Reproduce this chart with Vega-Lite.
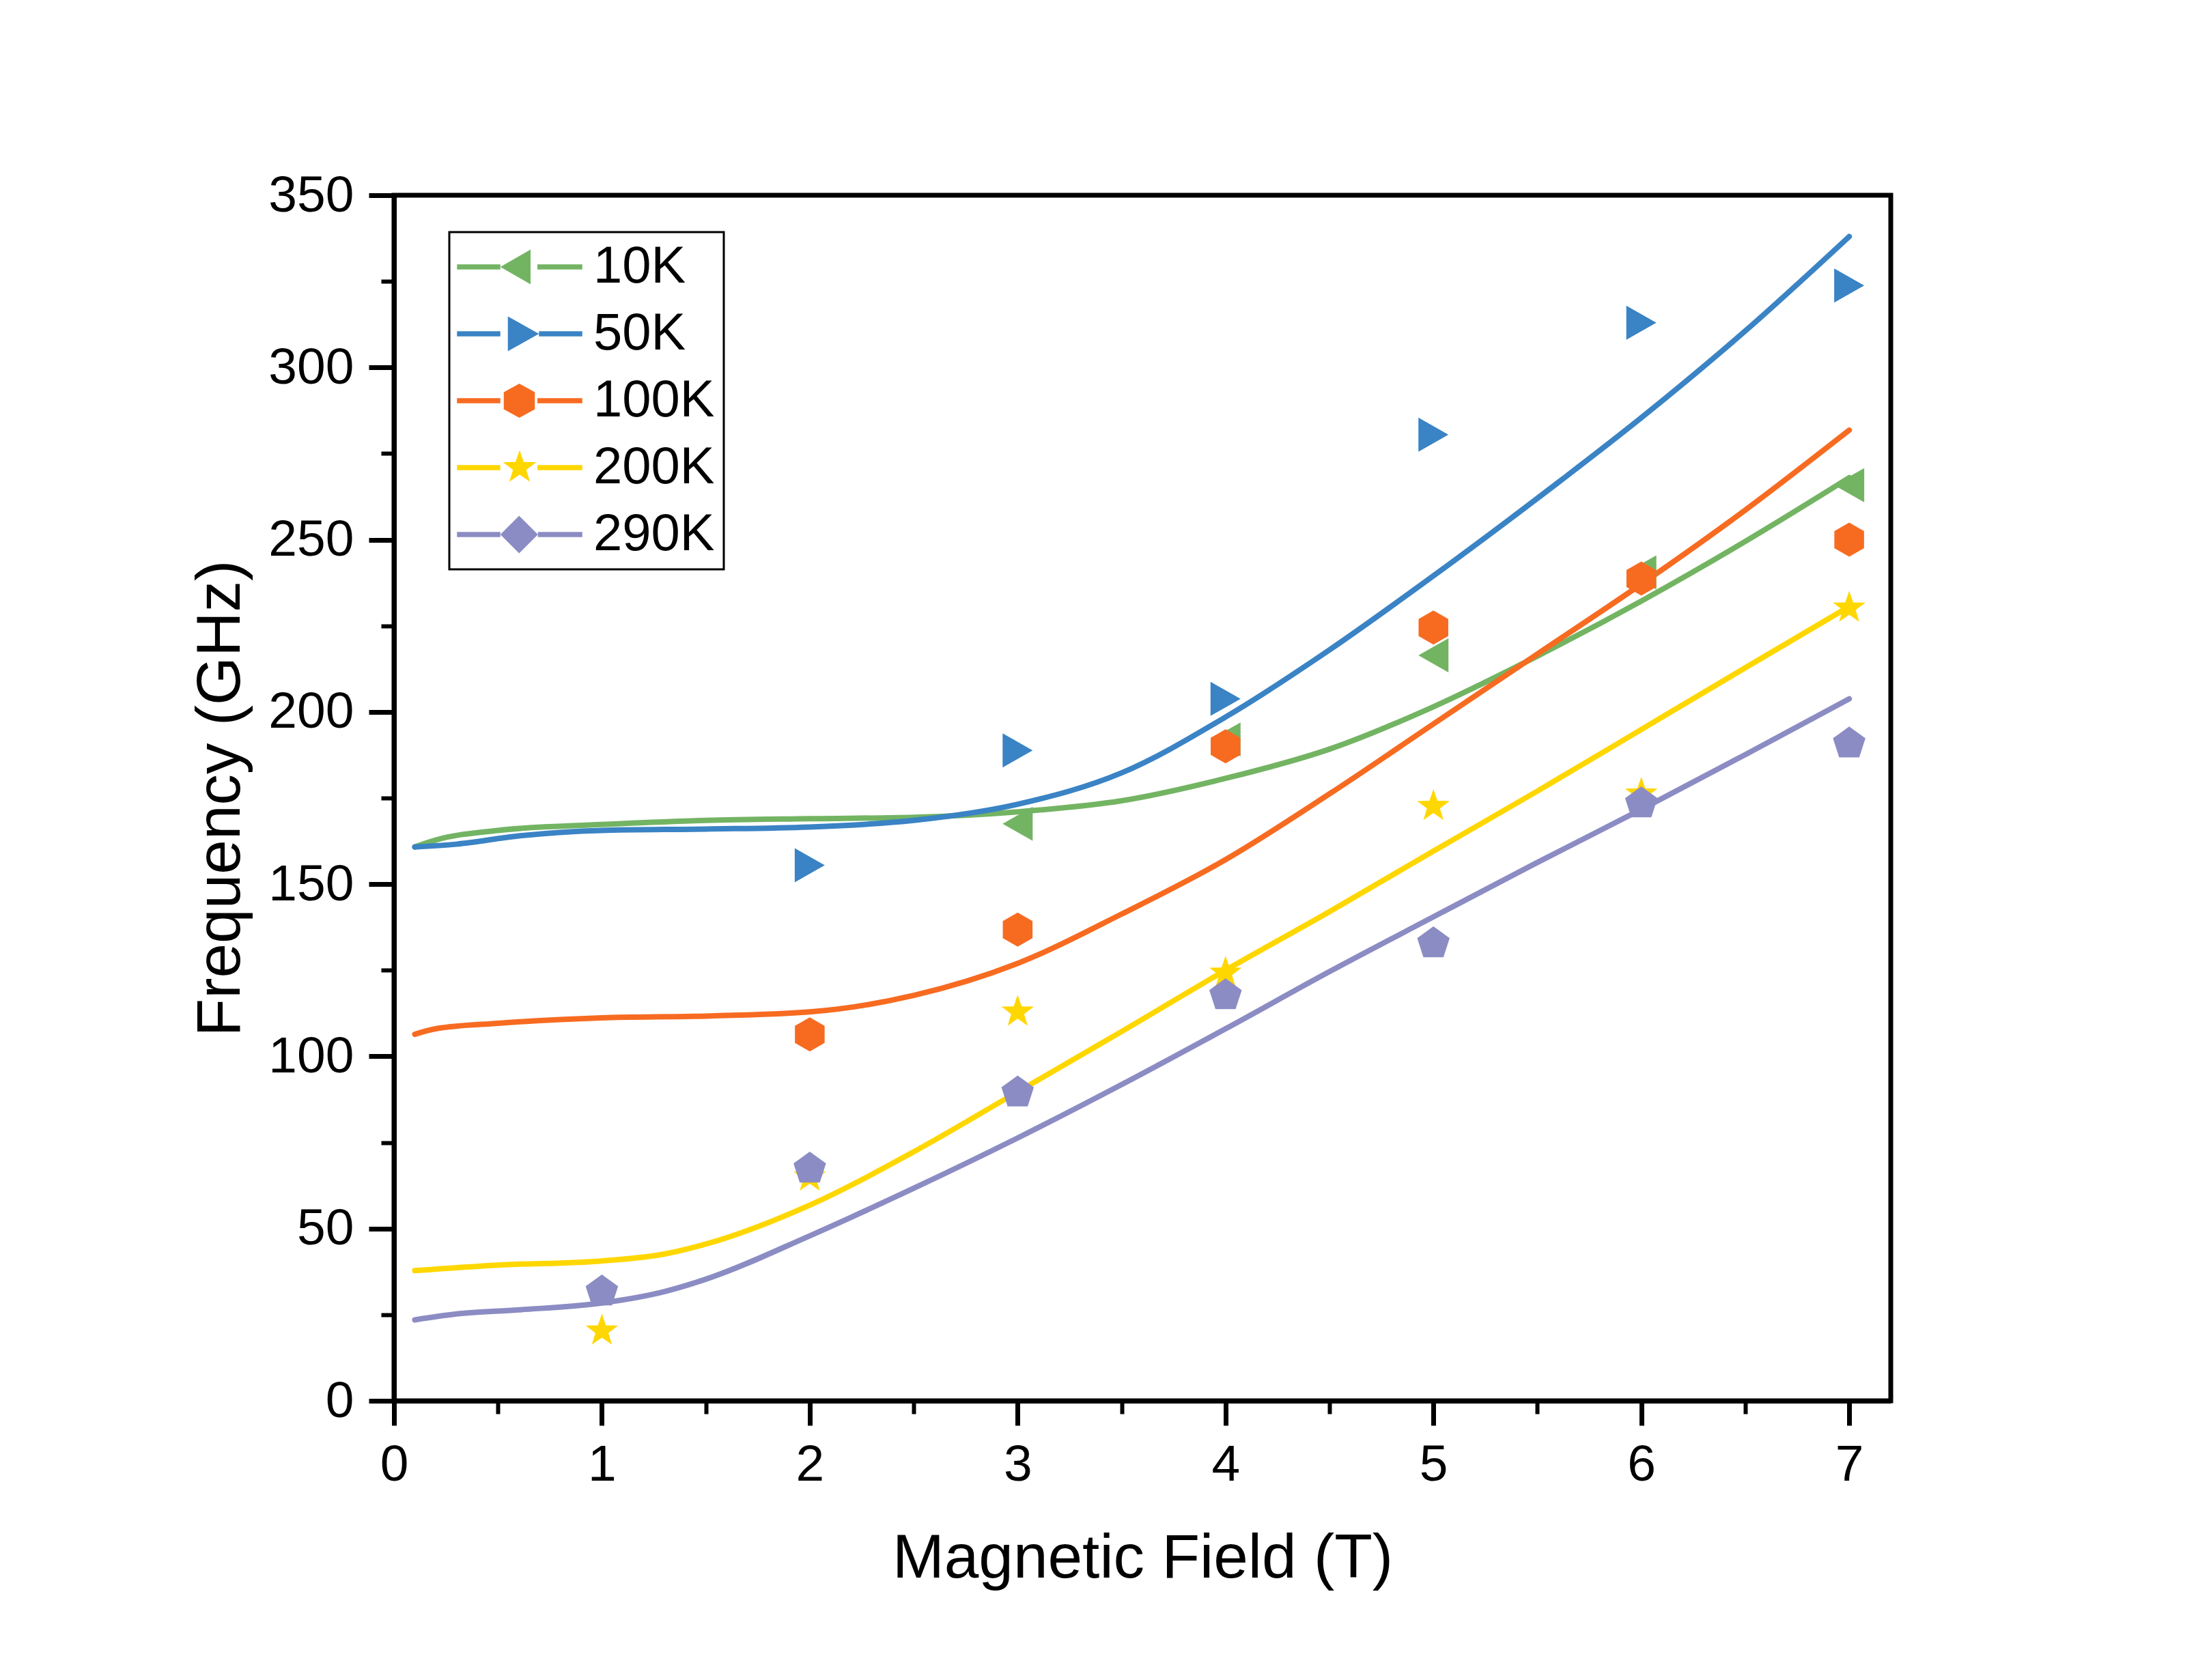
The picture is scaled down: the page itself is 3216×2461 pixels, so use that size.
{
  "$schema": "https://vega.github.io/schema/vega-lite/v6.json",
  "width": 2192,
  "height": 1766,
  "autosize": {"type": "none"},
  "padding": {"left": 577, "top": 286, "right": 447, "bottom": 409},
  "background": "white",
  "config": {
    "view": {"stroke": "black", "strokeWidth": 7},
    "font": "Liberation Sans",
    "legend": {"strokeWidth": 3},
    "axis": {"grid": false, "domainColor": "black", "tickColor": "black", "labelColor": "black", "titleColor": "black", "labelFont": "Liberation Sans", "titleFont": "Liberation Sans", "labelFlush": false, "labelOverlap": false}
  },
  "datasets": {
    "fits": [
      {"series": "10K", "B": 0.1, "f": 160.8}, {"series": "10K", "B": 0.2, "f": 162.8}, {"series": "10K", "B": 0.5, "f": 165.6}, {"series": "10K", "B": 1.0, "f": 167.3}, {"series": "10K", "B": 1.5, "f": 168.5}, {"series": "10K", "B": 2.0, "f": 169.0}, {"series": "10K", "B": 2.5, "f": 169.4}, {"series": "10K", "B": 3.0, "f": 171.0}, {"series": "10K", "B": 3.5, "f": 174.2}, {"series": "10K", "B": 4.0, "f": 180.7}, {"series": "10K", "B": 4.5, "f": 189.2}, {"series": "10K", "B": 5.0, "f": 201.5}, {"series": "10K", "B": 5.5, "f": 216.2}, {"series": "10K", "B": 6.0, "f": 232.2}, {"series": "10K", "B": 6.5, "f": 249.5}, {"series": "10K", "B": 7.0, "f": 268.0},
      {"series": "50K", "B": 0.1, "f": 160.8}, {"series": "50K", "B": 0.3, "f": 161.6}, {"series": "50K", "B": 0.6, "f": 164.0}, {"series": "50K", "B": 1.0, "f": 165.6}, {"series": "50K", "B": 1.5, "f": 166.0}, {"series": "50K", "B": 2.0, "f": 166.6}, {"series": "50K", "B": 2.5, "f": 168.5}, {"series": "50K", "B": 3.0, "f": 173.2}, {"series": "50K", "B": 3.5, "f": 182.3}, {"series": "50K", "B": 4.0, "f": 198.5}, {"series": "50K", "B": 4.5, "f": 218.0}, {"series": "50K", "B": 5.0, "f": 239.5}, {"series": "50K", "B": 5.5, "f": 262.0}, {"series": "50K", "B": 6.0, "f": 285.4}, {"series": "50K", "B": 6.5, "f": 310.6}, {"series": "50K", "B": 7.0, "f": 338.0},
      {"series": "100K", "B": 0.1, "f": 106.4}, {"series": "100K", "B": 0.2, "f": 108.0}, {"series": "100K", "B": 0.5, "f": 109.6}, {"series": "100K", "B": 1.0, "f": 111.2}, {"series": "100K", "B": 1.5, "f": 111.7}, {"series": "100K", "B": 2.0, "f": 112.9}, {"series": "100K", "B": 2.5, "f": 117.7}, {"series": "100K", "B": 3.0, "f": 127.0}, {"series": "100K", "B": 3.5, "f": 141.3}, {"series": "100K", "B": 4.0, "f": 157.1}, {"series": "100K", "B": 4.5, "f": 176.2}, {"series": "100K", "B": 5.0, "f": 196.5}, {"series": "100K", "B": 5.5, "f": 216.8}, {"series": "100K", "B": 6.0, "f": 237.1}, {"series": "100K", "B": 6.5, "f": 258.6}, {"series": "100K", "B": 7.0, "f": 281.8},
      {"series": "200K", "B": 0.1, "f": 37.8}, {"series": "200K", "B": 0.5, "f": 39.4}, {"series": "200K", "B": 1.0, "f": 40.6}, {"series": "200K", "B": 1.3, "f": 42.6}, {"series": "200K", "B": 1.5, "f": 45.5}, {"series": "200K", "B": 2.0, "f": 56.8}, {"series": "200K", "B": 2.5, "f": 72.3}, {"series": "200K", "B": 3.0, "f": 89.7}, {"series": "200K", "B": 3.5, "f": 107.2}, {"series": "200K", "B": 4.0, "f": 125.0}, {"series": "200K", "B": 4.5, "f": 142.0}, {"series": "200K", "B": 5.0, "f": 159.6}, {"series": "200K", "B": 5.5, "f": 177.0}, {"series": "200K", "B": 6.0, "f": 194.9}, {"series": "200K", "B": 6.5, "f": 212.8}, {"series": "200K", "B": 7.0, "f": 230.6},
      {"series": "290K", "B": 0.1, "f": 23.5}, {"series": "290K", "B": 0.3, "f": 25.2}, {"series": "290K", "B": 0.6, "f": 26.4}, {"series": "290K", "B": 1.0, "f": 28.4}, {"series": "290K", "B": 1.3, "f": 31.7}, {"series": "290K", "B": 1.5, "f": 35.3}, {"series": "290K", "B": 2.0, "f": 47.9}, {"series": "290K", "B": 2.5, "f": 61.7}, {"series": "290K", "B": 3.0, "f": 76.3}, {"series": "290K", "B": 3.5, "f": 91.8}, {"series": "290K", "B": 4.0, "f": 108.0}, {"series": "290K", "B": 4.5, "f": 124.6}, {"series": "290K", "B": 5.0, "f": 140.5}, {"series": "290K", "B": 5.5, "f": 156.3}, {"series": "290K", "B": 6.0, "f": 171.7}, {"series": "290K", "B": 6.5, "f": 187.6}, {"series": "290K", "B": 7.0, "f": 203.8}
    ],
    "pts": [
      {"series": "10K", "B": 3, "f": 167.5}, {"series": "10K", "B": 4, "f": 192.0}, {"series": "10K", "B": 5, "f": 216.4}, {"series": "10K", "B": 6, "f": 240.5}, {"series": "10K", "B": 7, "f": 265.8},
      {"series": "50K", "B": 2, "f": 155.5}, {"series": "50K", "B": 3, "f": 188.8}, {"series": "50K", "B": 4, "f": 203.8}, {"series": "50K", "B": 5, "f": 280.5}, {"series": "50K", "B": 6, "f": 313.0}, {"series": "50K", "B": 7, "f": 323.8},
      {"series": "100K", "B": 2, "f": 106.4}, {"series": "100K", "B": 3, "f": 136.8}, {"series": "100K", "B": 4, "f": 190.0}, {"series": "100K", "B": 5, "f": 224.5}, {"series": "100K", "B": 6, "f": 238.7}, {"series": "100K", "B": 7, "f": 250.0},
      {"series": "200K", "B": 1, "f": 20.3}, {"series": "200K", "B": 2, "f": 65.0}, {"series": "200K", "B": 3, "f": 112.9}, {"series": "200K", "B": 4, "f": 124.2}, {"series": "200K", "B": 5, "f": 172.6}, {"series": "200K", "B": 6, "f": 176.2}, {"series": "200K", "B": 7, "f": 230.2},
      {"series": "290K", "B": 1, "f": 31.7}, {"series": "290K", "B": 2, "f": 67.4}, {"series": "290K", "B": 3, "f": 89.5}, {"series": "290K", "B": 4, "f": 117.7}, {"series": "290K", "B": 5, "f": 132.8}, {"series": "290K", "B": 6, "f": 173.4}, {"series": "290K", "B": 7, "f": 190.8}
    ]
  },
  "layer": [
    {
      "data": {"name": "fits"},
      "mark": {"type": "line", "strokeWidth": 8, "interpolate": "monotone", "strokeCap": "round"},
      "encoding": {
        "x": {"field": "B", "type": "quantitative", "scale": {"domain": [0, 7.2], "nice": false, "zero": false},
          "axis": {"orient": "bottom", "values": [0, 1, 2, 3, 4, 5, 6, 7], "format": "d", "tickSize": 36, "tickWidth": 7, "domainWidth": 7, "labelFontSize": 75, "labelPadding": 21, "title": "Magnetic Field (T)", "titleFontSize": 91, "titleFontWeight": "normal", "titlePadding": 55}},
        "y": {"field": "f", "type": "quantitative", "scale": {"domain": [0, 350], "nice": false},
          "axis": {"orient": "left", "values": [0, 50, 100, 150, 200, 250, 300, 350], "format": "d", "tickSize": 37, "tickWidth": 7, "domainWidth": 7, "labelFontSize": 75, "labelPadding": 22, "title": "Frequency (GHz)", "titleFontSize": 91, "titleFontWeight": "normal", "titlePadding": 23}},
        "color": {"field": "series", "type": "nominal", "scale": {"domain": ["10K", "50K", "100K", "200K", "290K"], "range": ["#73B463", "#3A83C5", "#F76B21", "#FFD700", "#8C8CC4"]},
          "legend": {"title": null, "orient": "none", "legendX": 81, "legendY": 54, "direction": "vertical", "strokeColor": "black", "padding": 13, "labelFont": "Liberation Sans", "labelFontSize": 76, "labelColor": "black", "labelLimit": 600, "symbolSize": 2500, "symbolStrokeWidth": 0, "symbolOffset": 52, "labelOffset": 70, "rowPadding": 22,
            "symbolType": {"expr": "datum.value === '10K' ? 'M-3.67,-0.146L-1.13,-0.146L-1.13,0.146L-3.67,0.146Z M-1.13,0L0.64,-1.02L0.64,1.02Z M1.04,-0.146L3.67,-0.146L3.67,0.146L1.04,0.146Z' : datum.value === '50K' ? 'M-3.67,-0.146L-1.13,-0.146L-1.13,0.146L-3.67,0.146Z M-0.69,-1.02L1.13,0L-0.69,1.02Z M1.13,-0.146L3.67,-0.146L3.67,0.146L1.13,0.146Z' : datum.value === '100K' ? 'M-3.67,-0.146L-1.13,-0.146L-1.13,0.146L-3.67,0.146Z M-0.02,-1L0.89,-0.5L0.89,0.5L-0.02,1L-0.93,0.5L-0.93,-0.5Z M1.04,-0.146L3.67,-0.146L3.67,0.146L1.04,0.146Z' : datum.value === '200K' ? 'M-3.67,-0.146L-1.13,-0.146L-1.13,0.146L-3.67,0.146Z M0,-1.03L0.241,-0.332L0.98,-0.318L0.39,0.127L0.605,0.833L0,0.41L-0.605,0.833L-0.39,0.127L-0.98,-0.318L-0.241,-0.332Z M1.04,-0.146L3.67,-0.146L3.67,0.146L1.04,0.146Z' : 'M-3.67,-0.146L-1.13,-0.146L-1.13,0.146L-3.67,0.146Z M-0.03,-1.1L1.07,0L-0.03,1.1L-1.13,0Z M1.07,-0.146L3.67,-0.146L3.67,0.146L1.07,0.146Z'"}
          }}
      }
    },
    {
      "data": {"name": "pts"},
      "mark": {"type": "point", "filled": true, "size": 2500, "opacity": 1, "strokeWidth": 0},
      "encoding": {
        "x": {"field": "B", "type": "quantitative", "scale": {"domain": [0, 7.2], "nice": false, "zero": false},
          "axis": {"orient": "bottom", "values": [0.5, 1.5, 2.5, 3.5, 4.5, 5.5, 6.5], "labels": false, "domain": false, "tickSize": 19, "tickWidth": 6, "title": null}},
        "y": {"field": "f", "type": "quantitative", "scale": {"domain": [0, 350], "nice": false},
          "axis": {"orient": "left", "values": [25, 75, 125, 175, 225, 275, 325], "labels": false, "domain": false, "tickSize": 19, "tickWidth": 6, "title": null}},
        "color": {"field": "series", "type": "nominal", "scale": {"domain": ["10K", "50K", "100K", "200K", "290K"], "range": ["#73B463", "#3A83C5", "#F76B21", "#FFD700", "#8C8CC4"]},
          "legend": {"title": null, "orient": "none", "legendX": 81, "legendY": 54, "direction": "vertical", "strokeColor": "black", "padding": 13, "labelFont": "Liberation Sans", "labelFontSize": 76, "labelColor": "black", "labelLimit": 600, "symbolSize": 2500, "symbolStrokeWidth": 0, "symbolOffset": 52, "labelOffset": 70, "rowPadding": 22,
            "symbolType": {"expr": "datum.value === '10K' ? 'M-3.67,-0.146L-1.13,-0.146L-1.13,0.146L-3.67,0.146Z M-1.13,0L0.64,-1.02L0.64,1.02Z M1.04,-0.146L3.67,-0.146L3.67,0.146L1.04,0.146Z' : datum.value === '50K' ? 'M-3.67,-0.146L-1.13,-0.146L-1.13,0.146L-3.67,0.146Z M-0.69,-1.02L1.13,0L-0.69,1.02Z M1.13,-0.146L3.67,-0.146L3.67,0.146L1.13,0.146Z' : datum.value === '100K' ? 'M-3.67,-0.146L-1.13,-0.146L-1.13,0.146L-3.67,0.146Z M-0.02,-1L0.89,-0.5L0.89,0.5L-0.02,1L-0.93,0.5L-0.93,-0.5Z M1.04,-0.146L3.67,-0.146L3.67,0.146L1.04,0.146Z' : datum.value === '200K' ? 'M-3.67,-0.146L-1.13,-0.146L-1.13,0.146L-3.67,0.146Z M0,-1.03L0.241,-0.332L0.98,-0.318L0.39,0.127L0.605,0.833L0,0.41L-0.605,0.833L-0.39,0.127L-0.98,-0.318L-0.241,-0.332Z M1.04,-0.146L3.67,-0.146L3.67,0.146L1.04,0.146Z' : 'M-3.67,-0.146L-1.13,-0.146L-1.13,0.146L-3.67,0.146Z M-0.03,-1.1L1.07,0L-0.03,1.1L-1.13,0Z M1.07,-0.146L3.67,-0.146L3.67,0.146L1.07,0.146Z'"}
          }},
        "shape": {"field": "series", "type": "nominal", "scale": {"domain": ["50K", "10K", "100K", "200K", "290K"], "range": ["M0.88,0L-0.88,-1L-0.88,1Z", "M-0.88,0L0.88,-1L0.88,1Z", "M0,-1L0.87,-0.5L0.87,0.5L0,1L-0.87,0.5L-0.87,-0.5Z", "M0,-1L0.235,-0.324L0.951,-0.309L0.38,0.124L0.588,0.809L0,0.4L-0.588,0.809L-0.38,0.124L-0.951,-0.309L-0.235,-0.324Z", "M0,-1L0.951,-0.309L0.588,0.809L-0.588,0.809L-0.951,-0.309Z"]}, "legend": null}
      }
    }
  ],
  "resolve": {"axis": {"x": "independent", "y": "independent"}}
}
